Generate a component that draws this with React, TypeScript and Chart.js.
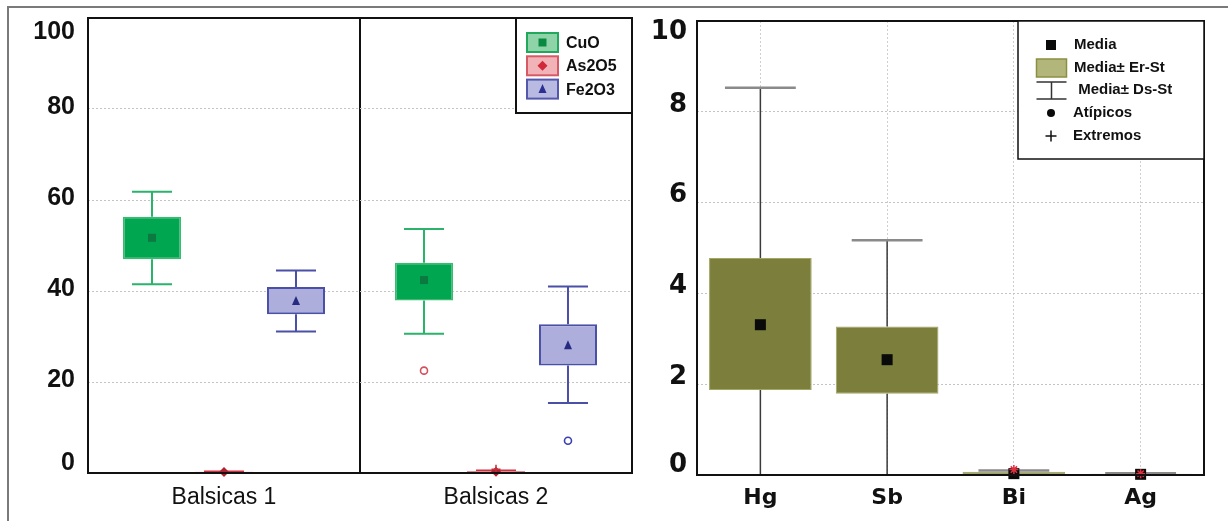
import React, { useEffect, useRef } from "react";
import { Chart, registerables } from "chart.js";

Chart.register(...registerables);

// ---------- Left chart data ----------
const groups = ["Balsicas 1", "Balsicas 2"];
const yTicksLeft = [0, 20, 40, 60, 80, 100];

const cuoQ1 = [47.0, 37.9];
const cuoQ3 = [56.3, 46.2];
const cuoMin = [41.5, 30.6];
const cuoMax = [61.8, 53.6];
const cuoMean = [51.7, 42.4];
const cuoOutliers = [[], [22.5]];

const asQ1 = [0.05, 0.05];
const asQ3 = [0.3, 0.4];
const asMin = [0, 0];
const asMax = [0.4, 0.6];
const asMean = [0.2, 0.25];
const asExtremes = [[], [0.8]];

const feQ1 = [34.9, 23.6];
const feQ3 = [40.9, 32.7];
const feMin = [31.1, 15.4];
const feMax = [44.5, 41.0];
const feMean = [37.8, 28.1];
const feOutliers = [[], [7.1]];

// ---------- Right chart data ----------
const elements = ["Hg", "Sb", "Bi", "Ag"];
const yTicksRight = [0, 2, 4, 6, 8, 10];
const elMean = [3.31, 2.54, 0.03, 0.015];
const elSeLow = [1.87, 1.79, 0.0, 0.0];
const elSeHigh = [4.78, 3.27, 0.07, 0.03];
const elSdLow = [-1.9, -0.09, 0.0, 0.0];
const elSdHigh = [8.53, 5.17, 0.1, 0.04];
const elExtremes = [[], [], [0.12], [0.03]];

// ---------- drawing helpers ----------
function drawMarker(ctx: CanvasRenderingContext2D, shape: string, x: number, y: number, s: number, color: string) {
  ctx.save();
  ctx.fillStyle = color;
  ctx.strokeStyle = color;
  if (shape === "square") {
    ctx.fillRect(x - s / 2, y - s / 2, s, s);
  } else if (shape === "diamond") {
    ctx.beginPath();
    ctx.moveTo(x, y - s / 2 - 1);
    ctx.lineTo(x + s / 2 + 1, y);
    ctx.lineTo(x, y + s / 2 + 1);
    ctx.lineTo(x - s / 2 - 1, y);
    ctx.closePath();
    ctx.fill();
  } else if (shape === "triangle") {
    ctx.beginPath();
    ctx.moveTo(x, y - s / 2 - 1);
    ctx.lineTo(x + s / 2, y + s / 2);
    ctx.lineTo(x - s / 2, y + s / 2);
    ctx.closePath();
    ctx.fill();
  } else if (shape === "ring") {
    ctx.lineWidth = 1.6;
    ctx.beginPath();
    ctx.arc(x, y, s / 2, 0, Math.PI * 2);
    ctx.stroke();
  } else if (shape === "dot") {
    ctx.beginPath();
    ctx.arc(x, y, s / 2, 0, Math.PI * 2);
    ctx.fill();
  } else if (shape === "plus") {
    ctx.lineWidth = 1.5;
    ctx.beginPath();
    ctx.moveTo(x - s / 2, y);
    ctx.lineTo(x + s / 2, y);
    ctx.moveTo(x, y - s / 2);
    ctx.lineTo(x, y + s / 2);
    ctx.stroke();
  } else if (shape === "star") {
    ctx.lineWidth = 1.5;
    const r = s / 2;
    ctx.beginPath();
    ctx.moveTo(x - r, y);
    ctx.lineTo(x + r, y);
    ctx.moveTo(x, y - r);
    ctx.lineTo(x, y + r);
    ctx.moveTo(x - r * 0.7, y - r * 0.7);
    ctx.lineTo(x + r * 0.7, y + r * 0.7);
    ctx.moveTo(x + r * 0.7, y - r * 0.7);
    ctx.lineTo(x - r * 0.7, y + r * 0.7);
    ctx.stroke();
  }
  ctx.restore();
}

const boxExtras = {
  id: "boxExtras",
  beforeDatasetsDraw(chart: any, _a: any, opts: any) {
    const { ctx, chartArea: ca } = chart;
    const ys = chart.scales.y;
    ctx.save();
    ctx.beginPath();
    ctx.rect(ca.left, ca.top, ca.right - ca.left, ca.bottom - ca.top);
    ctx.clip();
    opts.series.forEach((s: any, di: number) => {
      const meta = chart.getDatasetMeta(di);
      meta.data.forEach((el: any, j: number) => {
        const { x, width } = el.getProps(["x", "width"], true);
        const pHigh = ys.getPixelForValue(s.high[j]);
        const pLow = ys.getPixelForValue(s.low[j]);
        const pQ3 = ys.getPixelForValue(s.q3[j]);
        const pQ1 = ys.getPixelForValue(s.q1[j]);
        ctx.strokeStyle = s.lineColor;
        ctx.lineWidth = s.lineWidth;
        ctx.beginPath();
        ctx.moveTo(x, pHigh);
        ctx.lineTo(x, pQ3);
        ctx.moveTo(x, pQ1);
        ctx.lineTo(x, pLow);
        ctx.stroke();
        const cw = (width * s.capFrac) / 2;
        ctx.strokeStyle = s.capColor;
        ctx.lineWidth = s.capWidth;
        ctx.beginPath();
        ctx.moveTo(x - cw, pHigh);
        ctx.lineTo(x + cw, pHigh);
        ctx.moveTo(x - cw, pLow);
        ctx.lineTo(x + cw, pLow);
        ctx.stroke();
      });
    });
    ctx.restore();
  },
  afterDatasetsDraw(chart: any, _a: any, opts: any) {
    const { ctx } = chart;
    const ys = chart.scales.y;
    opts.series.forEach((s: any, di: number) => {
      const meta = chart.getDatasetMeta(di);
      meta.data.forEach((el: any, j: number) => {
        const { x } = el.getProps(["x"], true);
        drawMarker(ctx, s.marker, x, ys.getPixelForValue(s.mean[j]), s.markerSize, s.markerColor);
        (s.outliers[j] || []).forEach((v: number) =>
          drawMarker(ctx, "ring", x, ys.getPixelForValue(v), 7, s.outlierColor)
        );
        (s.extremes[j] || []).forEach((v: number) =>
          drawMarker(ctx, s.extremeShape, x, ys.getPixelForValue(v), 9, s.extremeColor)
        );
      });
    });
  },
  afterDraw(chart: any, _a: any, opts: any) {
    const { ctx, chartArea: ca } = chart;
    const ys = chart.scales.y;
    // plot frame
    ctx.save();
    ctx.strokeStyle = "#111";
    ctx.lineWidth = 2;
    ctx.strokeRect(ca.left, ca.top, ca.right - ca.left, ca.bottom - ca.top);
    ctx.restore();
    // y labels, kept inside the frame
    const yl = opts.yLabels;
    ctx.save();
    ctx.font = yl.font;
    ctx.fillStyle = "#111";
    ctx.textAlign = "right";
    ctx.textBaseline = "middle";
    yl.values.forEach((v: number) => {
      let p = ys.getPixelForValue(v) + yl.offset;
      p = Math.max(ca.top + yl.topInset, Math.min(ca.bottom - yl.bottomInset, p));
      ctx.fillText(String(v), ca.left - yl.pad, p);
    });
    ctx.restore();
    if (opts.legend) opts.legend(ctx, ca);
  },
};

function leftLegend(ctx: CanvasRenderingContext2D, ca: any) {
  const w = 116, h = 95;
  const L = ca.right - w, T = ca.top;
  ctx.save();
  ctx.fillStyle = "#fff";
  ctx.fillRect(L, T, w, h);
  ctx.strokeStyle = "#111";
  ctx.lineWidth = 2;
  ctx.strokeRect(L, T, w, h);
  const items = [
    { label: "CuO", fill: "#8fd4a8", border: "#22a85c", shape: "square", mc: "#0a8a40" },
    { label: "As2O5", fill: "#f2b3b8", border: "#d65a66", shape: "diamond", mc: "#d02a3a" },
    { label: "Fe2O3", fill: "#b9bae2", border: "#5458ad", shape: "triangle", mc: "#2c3090" },
  ];
  items.forEach((it, i) => {
    const cy = T + 24.5 + i * 23.3;
    ctx.fillStyle = it.fill;
    ctx.fillRect(L + 11, cy - 9.5, 31, 19);
    ctx.strokeStyle = it.border;
    ctx.lineWidth = 2;
    ctx.strokeRect(L + 11, cy - 9.5, 31, 19);
    drawMarker(ctx, it.shape, L + 26.5, cy, 8, it.mc);
    ctx.fillStyle = "#111";
    ctx.font = "bold 16px 'Liberation Sans', Arial, sans-serif";
    ctx.textAlign = "left";
    ctx.textBaseline = "middle";
    ctx.fillText(it.label, L + 50, cy + 1);
  });
  ctx.restore();
}

function rightLegend(ctx: CanvasRenderingContext2D, ca: any) {
  const w = 186, h = 138;
  const L = ca.right - w, T = ca.top;
  ctx.save();
  ctx.fillStyle = "#fff";
  ctx.fillRect(L, T, w, h);
  ctx.strokeStyle = "#111";
  ctx.lineWidth = 1.5;
  ctx.strokeRect(L, T, w, h);
  ctx.font = "bold 15px 'Liberation Sans', Arial, sans-serif";
  ctx.textAlign = "left";
  ctx.textBaseline = "middle";
  const mx = L + 33;
  // Media
  drawMarker(ctx, "square", mx, T + 24, 10, "#0a0a0a");
  ctx.fillStyle = "#111";
  ctx.fillText("Media", L + 56, T + 24);
  // Media ± Er-St
  ctx.fillStyle = "#b3b67a";
  ctx.fillRect(L + 18.5, T + 38, 30, 18);
  ctx.strokeStyle = "#8c8f40";
  ctx.lineWidth = 1.5;
  ctx.strokeRect(L + 18.5, T + 38, 30, 18);
  ctx.fillStyle = "#111";
  ctx.fillText("Media\u00B1 Er-St", L + 56, T + 47);
  // Media ± Ds-St
  ctx.strokeStyle = "#333";
  ctx.lineWidth = 1.5;
  ctx.beginPath();
  ctx.moveTo(L + 18.5, T + 61);
  ctx.lineTo(L + 48.5, T + 61);
  ctx.moveTo(L + 18.5, T + 78);
  ctx.lineTo(L + 48.5, T + 78);
  ctx.moveTo(L + 33.5, T + 61);
  ctx.lineTo(L + 33.5, T + 78);
  ctx.stroke();
  ctx.fillStyle = "#111";
  ctx.fillText(" Media\u00B1 Ds-St", L + 56, T + 69);
  // Atípicos
  drawMarker(ctx, "dot", mx, T + 92, 8, "#0a0a0a");
  ctx.fillStyle = "#111";
  ctx.fillText("At\u00EDpicos", L + 55, T + 92);
  // Extremos
  drawMarker(ctx, "plus", mx, T + 115, 11, "#111");
  ctx.fillStyle = "#111";
  ctx.fillText("Extremos", L + 55, T + 115);
  ctx.restore();
}

function leftConfig(): any {
  return {
    type: "bar",
    data: {
      labels: groups,
      datasets: [
        {
          label: "CuO",
          data: cuoQ1.map((v, i) => [v, cuoQ3[i]]),
          backgroundColor: "#00a650",
          borderColor: "#3dba72",
          borderWidth: 1.5,
          borderSkipped: false,
        },
        {
          label: "As2O5",
          data: asQ1.map((v, i) => [v, asQ3[i]]),
          backgroundColor: "#e27a86",
          borderColor: "#d0303f",
          borderWidth: 1.5,
          borderSkipped: false,
        },
        {
          label: "Fe2O3",
          data: feQ1.map((v, i) => [v, feQ3[i]]),
          backgroundColor: "#adaedb",
          borderColor: "#4a4fa8",
          borderWidth: 2,
          borderSkipped: false,
        },
      ],
    },
    options: {
      animation: false,
      responsive: false,
      categoryPercentage: 0.794,
      barPercentage: 0.806,
      layout: { padding: { left: 0, top: 18, right: 4, bottom: 0 } },
      scales: {
        x: {
          grid: { color: "#111", lineWidth: 2, drawTicks: false, offset: true },
          border: { display: false },
          ticks: {
            color: "#111",
            padding: 11,
            font: { size: 23, family: "'Liberation Sans', Arial, sans-serif" },
          },
          afterFit: (s: any) => { s.height = 48; },
        },
        y: {
          min: 0,
          max: 100,
          afterBuildTicks: (s: any) => { s.ticks = yTicksLeft.map((v) => ({ value: v })); },
          ticks: { display: false },
          grid: {
            drawTicks: false,
            color: (c: any) => (c.tick && (c.tick.value === 0 || c.tick.value === 100) ? "rgba(0,0,0,0)" : "#c4c4c4"),
            lineWidth: 1,
          },
          border: { display: false, dash: [2, 2] },
          afterFit: (s: any) => { s.width = 88; },
        },
      },
      plugins: {
        legend: { display: false },
        tooltip: { enabled: false },
        boxExtras: {
          series: [
            {
              q1: cuoQ1, q3: cuoQ3, low: cuoMin, high: cuoMax, mean: cuoMean,
              lineColor: "#2bb36b", lineWidth: 2, capColor: "#2bb36b", capWidth: 2, capFrac: 0.69,
              marker: "square", markerSize: 8, markerColor: "#0c7a40",
              outliers: cuoOutliers, outlierColor: "#d4505c",
              extremes: [[], []], extremeColor: "#d4505c", extremeShape: "plus",
            },
            {
              q1: asQ1, q3: asQ3, low: asMin, high: asMax, mean: asMean,
              lineColor: "#d0303f", lineWidth: 1.5, capColor: "#d0303f", capWidth: 1.5, capFrac: 0.69,
              marker: "diamond", markerSize: 8, markerColor: "#b0202e",
              outliers: [[], []], outlierColor: "#d0303f",
              extremes: asExtremes, extremeColor: "#c0303a", extremeShape: "plus",
            },
            {
              q1: feQ1, q3: feQ3, low: feMin, high: feMax, mean: feMean,
              lineColor: "#4a4fa8", lineWidth: 2, capColor: "#4a4fa8", capWidth: 2, capFrac: 0.69,
              marker: "triangle", markerSize: 8, markerColor: "#262a80",
              outliers: feOutliers, outlierColor: "#3a40b0",
              extremes: [[], []], extremeColor: "#3a40b0", extremeShape: "plus",
            },
          ],
          yLabels: {
            values: yTicksLeft,
            font: "bold 25px 'Liberation Sans', Arial, sans-serif",
            offset: -2, topInset: 14, bottomInset: 10, pad: 13,
          },
          legend: leftLegend,
        },
      },
    },
    plugins: [boxExtras],
  };
}

function rightConfig(): any {
  return {
    type: "bar",
    data: {
      labels: elements,
      datasets: [
        {
          label: "Media\u00B1 Er-St",
          data: elSeLow.map((v, i) => [v, elSeHigh[i]]),
          backgroundColor: "#7b7f3b",
          borderColor: "#a2a660",
          borderWidth: 1,
          borderSkipped: false,
        },
      ],
    },
    options: {
      animation: false,
      responsive: false,
      categoryPercentage: 0.9,
      barPercentage: 0.9,
      layout: { padding: { left: 0, top: 21, right: 24, bottom: 0 } },
      scales: {
        x: {
          grid: { color: "#cfcfcf", lineWidth: 1, drawTicks: false, offset: false },
          border: { display: false, dash: [2, 2] },
          ticks: {
            color: "#111",
            padding: 10,
            font: { size: 22, weight: "bold", family: "'DejaVu Sans', sans-serif" },
          },
          afterFit: (s: any) => { s.height = 46; },
        },
        y: {
          min: 0,
          max: 10,
          afterBuildTicks: (s: any) => { s.ticks = yTicksRight.map((v) => ({ value: v })); },
          ticks: { display: false },
          grid: {
            drawTicks: false,
            color: (c: any) => (c.tick && (c.tick.value === 0 || c.tick.value === 10) ? "rgba(0,0,0,0)" : "#c4c4c4"),
            lineWidth: 1,
          },
          border: { display: false, dash: [2, 2] },
          afterFit: (s: any) => { s.width = 61; },
        },
      },
      plugins: {
        legend: { display: false },
        tooltip: { enabled: false },
        boxExtras: {
          series: [
            {
              q1: elSeLow, q3: elSeHigh, low: elSdLow, high: elSdHigh, mean: elMean,
              lineColor: "#3a3a3a", lineWidth: 1.5, capColor: "#8a8a8a", capWidth: 2.5, capFrac: 0.69,
              marker: "square", markerSize: 11, markerColor: "#0a0a0a",
              outliers: [[], [], [], []], outlierColor: "#d0303f",
              extremes: elExtremes, extremeColor: "#e0303f", extremeShape: "star",
            },
          ],
          yLabels: {
            values: yTicksRight,
            font: "bold 26px 'DejaVu Sans', sans-serif",
            offset: -7, topInset: 11, bottomInset: 10, pad: 10,
          },
          legend: rightLegend,
        },
      },
    },
    plugins: [boxExtras],
  };
}

export default function App() {
  const leftRef = useRef<HTMLCanvasElement>(null);
  const rightRef = useRef<HTMLCanvasElement>(null);
  useEffect(() => {
    const c1 = new Chart(leftRef.current as HTMLCanvasElement, leftConfig());
    const c2 = new Chart(rightRef.current as HTMLCanvasElement, rightConfig());
    return () => {
      c1.destroy();
      c2.destroy();
    };
  }, []);
  return (
    <div style={{ position: "fixed", left: 0, top: 0, width: 1228, height: 521, background: "#fff", overflow: "hidden" }}>
      <div
        style={{
          position: "absolute", left: 7, top: 6, width: 1240, height: 540,
          borderTop: "2px solid #7a7a7a", borderLeft: "2px solid #7a7a7a",
        }}
      />
      <canvas ref={leftRef} width={636} height={521} style={{ position: "absolute", left: 0, top: 0 }} />
      <canvas ref={rightRef} width={592} height={521} style={{ position: "absolute", left: 636, top: 0 }} />
    </div>
  );
}
